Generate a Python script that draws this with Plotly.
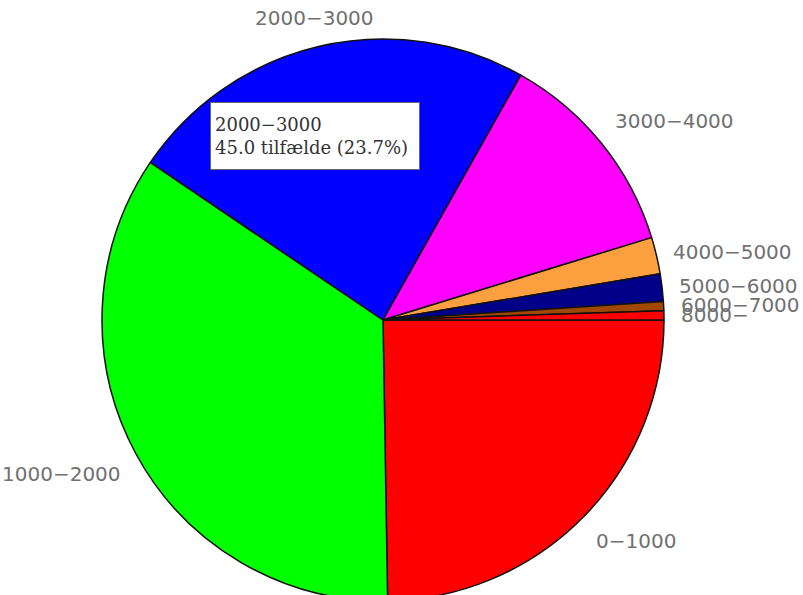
import math
import plotly.graph_objects as go

# Antal tilfælde pr. interval
labels = ["0−1000", "1000−2000", "2000−3000", "3000−4000",
          "4000−5000", "5000−6000", "6000−7000", "8000−"]
counts = [47, 66, 45, 23, 4, 3, 1, 1]
colors = ["#FF0000", "#00FF00", "#0000FF", "#FF00FF",
          "#FFA040", "#000088", "#A04800", "#FF0000"]
highlight = "2000−3000"

W, H = 803, 602
CX, CY, R = 383, 320, 281      # pie centre and radius in pixels
LABEL_R = R + 16               # distance of the slice labels from the centre

fig = go.Figure(go.Pie(
    labels=labels,
    values=counts,
    marker=dict(colors=colors, line=dict(color="#111111", width=1.5)),
    sort=False,
    direction="clockwise",
    rotation=90,
    textinfo="none",
    hoverinfo="label+value+percent",
    showlegend=False,
    domain=dict(x=[(CX - R) / W, (CX + R) / W],
                y=[1 - (CY + R) / H, 1 - (CY - R) / H]),
))

# Slice labels placed just outside the rim at each slice's mid angle
total = sum(counts)
annotations = []
start = 0.0
for lab, n in zip(labels, counts):
    span = 360.0 * n / total
    mid = math.radians(start + span / 2)
    start += span
    c, s = math.cos(mid), math.sin(mid)
    px, py = CX + LABEL_R * c, CY + LABEL_R * s
    xanchor = "left" if c > 0.3 else ("right" if c < -0.3 else "center")
    yanchor = "bottom" if s < -0.3 else ("top" if s > 0.3 else "middle")
    annotations.append(dict(
        x=px / W, y=1 - py / H, xref="paper", yref="paper",
        text=lab, showarrow=False, xanchor=xanchor, yanchor=yanchor,
        font=dict(family="DejaVu Sans", size=20, color="#707070"),
        borderpad=0,
    ))

# Info box for the highlighted slice
n_hl = counts[labels.index(highlight)]
annotations.append(dict(
    x=210 / W, y=1 - 102 / H, xref="paper", yref="paper",
    xanchor="left", yanchor="top", showarrow=False, align="left",
    text=f"{highlight}<br>{n_hl:.1f} tilfælde ({100 * n_hl / total:.1f}%)",
    font=dict(family="DejaVu Serif", size=18, color="#333333"),
    bgcolor="white", bordercolor="#666666", borderwidth=1, borderpad=4,
    width=200, height=58, valign="middle",
))

fig.update_layout(
    width=W, height=H,
    margin=dict(l=0, r=0, t=0, b=0),
    paper_bgcolor="white",
    plot_bgcolor="white",
    annotations=annotations,
)

fig.write_html(
    "out.html",
    post_script="document.documentElement.style.overflow='hidden';"
                "document.body.style.overflow='hidden';",
)
